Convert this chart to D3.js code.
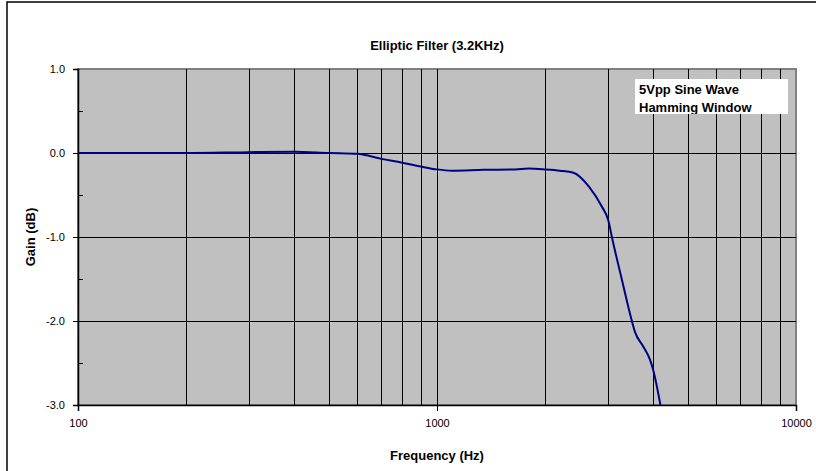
<!DOCTYPE html>
<html>
<head>
<meta charset="utf-8">
<script src="https://cdn.jsdelivr.net/npm/d3@7"></script>
<style>
  body { margin: 0; background: #fff; }
  svg { display: block; font-family: "Liberation Sans", Arial, sans-serif; }
</style>
</head>
<body>
<div id="chart"></div>
<script>
// values
var freqs = [100, 150, 200, 300, 400, 500, 600, 700, 800, 900, 1000, 1100, 1350, 1650, 1800, 2000, 2200, 2400, 2650, 2880, 3000, 3070, 3270, 3490, 3560, 3750, 3920, 4000, 4200];
var gains = [0, 0, 0, 0.01, 0.015, 0, -0.01, -0.07, -0.115, -0.16, -0.195, -0.21, -0.20, -0.195, -0.185, -0.195, -0.21, -0.235, -0.40, -0.64, -0.80, -1.0, -1.5, -2.0, -2.13, -2.3, -2.46, -2.58, -3.02];
var xTicks = [100, 1000, 10000];
var yTicks = [1, 0, -1, -2, -3];
var legendLines = ["5Vpp Sine Wave", "Hamming Window"];

var width = 816, height = 471,
    margin = {top: 69, right: 20, bottom: 66, left: 78};

var svg = d3.select("#chart").append("svg")
    .attr("width", width)
    .attr("height", height);

// outer chart frame (only left/top edges show in the picture)
svg.append("rect")
    .attr("x", 7).attr("y", 2)
    .attr("width", width).attr("height", height)
    .attr("fill", "none")
    .attr("stroke", "#000")
    .attr("stroke-width", 1.5);

var x = d3.scaleLog()
    .domain([100, 10000])
    .range([margin.left, width - margin.right]);

var y = d3.scaleLinear()
    .domain([-3, 1])
    .range([height - margin.bottom, margin.top]);

var data = freqs.map(function(f, i) { return {f: f, g: gains[i]}; });

// plot area
svg.append("rect")
    .attr("x", x(100)).attr("y", y(1))
    .attr("width", x(10000) - x(100))
    .attr("height", y(-3) - y(1))
    .attr("fill", "#c0c0c0")
    .attr("stroke", "#808080")
    .attr("stroke-width", 2);

// vertical grid
var gridX = [];
[100, 1000].forEach(function(d) {
  for (var k = 1; k <= 9; k++) gridX.push(d * k);
});

svg.append("g")
  .selectAll("line")
  .data(gridX.filter(function(d) { return d > 100; }))
  .enter().append("line")
    .attr("x1", function(d) { return Math.round(x(d)) + 0.5; })
    .attr("x2", function(d) { return Math.round(x(d)) + 0.5; })
    .attr("y1", y(1))
    .attr("y2", y(-3))
    .attr("stroke", "#000")
    .attr("stroke-width", 1);

// horizontal grid
svg.append("g")
  .selectAll("line")
  .data(yTicks.filter(function(d) { return d > -3 && d < 1; }))
  .enter().append("line")
    .attr("x1", x(100))
    .attr("x2", x(10000))
    .attr("y1", function(d) { return Math.round(y(d)) + 0.5; })
    .attr("y2", function(d) { return Math.round(y(d)) + 0.5; })
    .attr("stroke", "#000")
    .attr("stroke-width", 1);

// the curve
svg.append("clipPath").attr("id", "plot-clip")
  .append("rect")
    .attr("x", x(100)).attr("y", y(1))
    .attr("width", x(10000) - x(100))
    .attr("height", y(-3) - y(1));

var line = d3.line()
    .x(function(d) { return x(d.f); })
    .y(function(d) { return y(d.g); })
    .curve(d3.curveMonotoneX);

svg.append("path")
    .datum(data)
    .attr("clip-path", "url(#plot-clip)")
    .attr("d", line)
    .attr("fill", "none")
    .attr("stroke", "#000080")
    .attr("stroke-width", 2);

// x axis
var xAxis = svg.append("g")
    .attr("transform", "translate(0," + y(-3) + ")")
    .call(d3.axisBottom(x).tickValues(xTicks).tickFormat(d3.format("d")).tickSize(6).tickPadding(8));
xAxis.select(".domain").attr("stroke", "#000").attr("stroke-width", 1.5);
xAxis.selectAll("text").attr("font-size", 11).attr("fill", "#000").attr("font-family", "Liberation Sans, Arial, sans-serif");

// y axis
var yAxis = svg.append("g")
    .attr("transform", "translate(" + x(100) + ",0)")
    .call(d3.axisLeft(y).tickValues(yTicks).tickFormat(d3.format(".1f")).tickSize(5).tickPadding(8));
yAxis.select(".domain").attr("stroke", "#000").attr("stroke-width", 1.5);
yAxis.selectAll("text").attr("font-size", 11).attr("fill", "#000").attr("font-family", "Liberation Sans, Arial, sans-serif")
    .text(function(d) { return d3.format(".1f")(d).replace("−", "-"); });

// minor y ticks, inside
svg.append("g")
  .selectAll("line")
  .data([0.5, -0.5, -1.5, -2.5])
  .enter().append("line")
    .attr("x1", x(100))
    .attr("x2", x(100) + 5)
    .attr("y1", function(d) { return Math.round(y(d)) + 0.5; })
    .attr("y2", function(d) { return Math.round(y(d)) + 0.5; })
    .attr("stroke", "#000");

// legend box, text clipped at the box bottom
svg.append("clipPath").attr("id", "legend-clip")
  .append("rect")
    .attr("width", 153).attr("height", 35);

var lg = svg.append("g").attr("transform", "translate(635,79)");
lg.append("rect")
    .attr("width", 153).attr("height", 35)
    .attr("fill", "#fff");
lg.append("g")
    .attr("clip-path", "url(#legend-clip)")
  .selectAll("text")
  .data(legendLines)
  .enter().append("text")
    .attr("x", 4)
    .attr("y", function(d, i) { return 15 + i * 18; })
    .attr("font-size", 13)
    .attr("font-weight", "bold")
    .text(function(d) { return d; });

// titles
svg.append("text")
    .attr("x", (x(100) + x(10000)) / 2)
    .attr("y", 50)
    .attr("text-anchor", "middle")
    .attr("font-size", 13)
    .attr("font-weight", "bold")
    .text("Elliptic Filter (3.2KHz)");

svg.append("text")
    .attr("x", (x(100) + x(10000)) / 2)
    .attr("y", 460)
    .attr("text-anchor", "middle")
    .attr("font-size", 13)
    .attr("font-weight", "bold")
    .text("Frequency (Hz)");

svg.append("text")
    .attr("transform", "translate(35," + y(-1) + ") rotate(-90)")
    .attr("text-anchor", "middle")
    .attr("font-size", 13)
    .attr("font-weight", "bold")
    .text("Gain (dB)");
</script>
</body>
</html>
